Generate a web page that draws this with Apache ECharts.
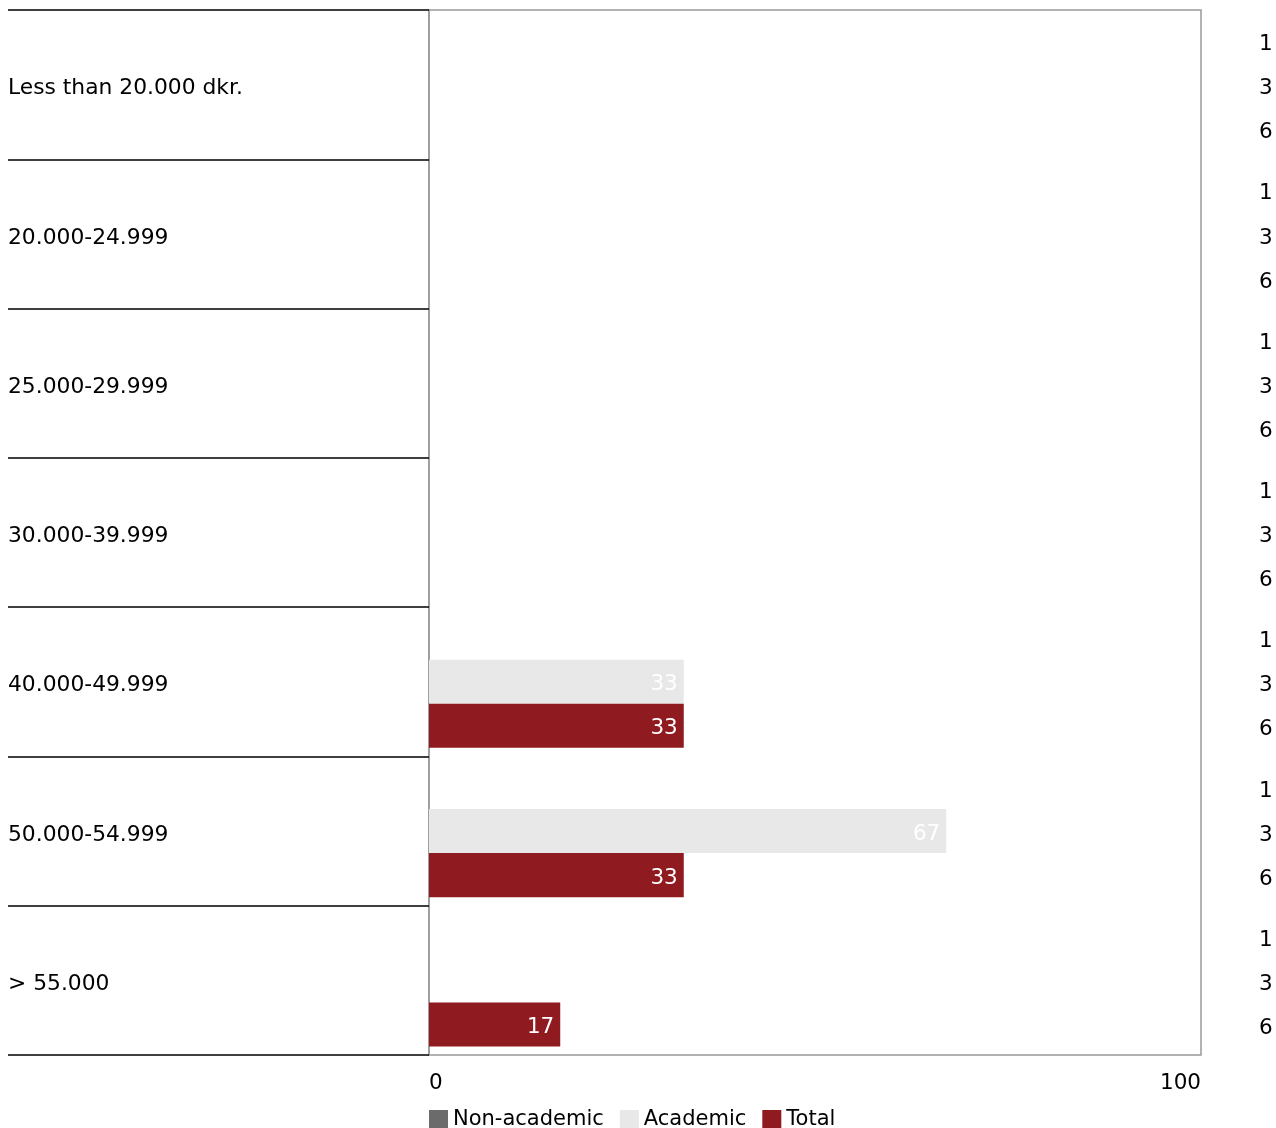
<!DOCTYPE html>
<html>
<head>
<meta charset="utf-8">
<script src="https://cdn.jsdelivr.net/npm/echarts@6/dist/echarts.min.js"></script>
<style>html,body{margin:0;padding:0;background:#fff;}#c{width:1276px;height:1128px;}</style>
</head>
<body>
<div id="c"></div>
<script>
const categories = ["Less than 20.000 dkr.", "20.000-24.999", "25.000-29.999", "30.000-39.999", "40.000-49.999", "50.000-54.999", "> 55.000"];
const seriesNames = ["Non-academic", "Academic", "Total"];
const nonAcademic = [0, 0, 0, 0, 0, 0, 0];
const academic = [0, 0, 0, 0, 33, 67, 0];
const total = [0, 0, 0, 0, 33, 33, 17];
const sampleSizes = [1, 3, 6];
const xTicks = [0, 100];
const colors = ["#6b6b6b", "#e8e8e8", "#8f1a1f"];

const FONT = 'Verdana, "DejaVu Sans", sans-serif';
const FS = 21.5;
const values = [nonAcademic, academic, total];

const chart = echarts.init(document.getElementById('c'));

const mainSeries = seriesNames.map((name, i) => ({
  name: name,
  type: 'bar',
  xAxisIndex: 0,
  yAxisIndex: 0,
  data: values[i],
  barGap: '0%',
  barCategoryGap: '11.5%',
  itemStyle: { color: colors[i] },
  label: {
    show: true,
    position: 'insideRight',
    distance: 6,
    offset: [0, 3],
    color: '#fff',
    fontFamily: FONT,
    fontSize: FS,
    formatter: p => (p.value ? String(p.value) : '')
  }
}));

const nSeries = seriesNames.map((name, i) => ({
  name: name + ' n',
  type: 'bar',
  xAxisIndex: 1,
  yAxisIndex: 1,
  silent: true,
  data: categories.map(() => xTicks[xTicks.length - 1]),
  barGap: '0%',
  barCategoryGap: '11.5%',
  itemStyle: { color: 'rgba(0,0,0,0)' },
  label: {
    show: true,
    position: 'right',
    distance: 58,
    offset: [0, 4],
    color: '#000',
    fontFamily: FONT,
    fontSize: FS,
    formatter: () => String(sampleSizes[i])
  }
}));

chart.setOption({
  animation: false,
  textStyle: { fontFamily: FONT },
  grid: {
    left: 429, right: 75, top: 10, bottom: 73,
    show: true, borderColor: '#999', borderWidth: 1.5, backgroundColor: 'transparent'
  },
  legend: {
    data: seriesNames,
    left: 429,
    top: 1109,
    padding: 0,
    itemWidth: 19,
    itemHeight: 19,
    itemGap: 16,
    icon: 'rect',
    textStyle: { fontFamily: FONT, fontSize: 21, color: '#000' }
  },
  xAxis: [{
    type: 'value',
    min: xTicks[0],
    max: xTicks[xTicks.length - 1],
    interval: xTicks[1] - xTicks[0],
    axisLine: { show: false },
    axisTick: { show: false },
    splitLine: { show: false },
    axisLabel: {
      color: '#000', fontFamily: FONT, fontSize: FS, margin: 17,
      alignMinLabel: 'left', alignMaxLabel: 'right'
    }
  }, {
    type: 'value',
    min: xTicks[0],
    max: xTicks[xTicks.length - 1],
    show: false
  }],
  yAxis: [{
    type: 'category',
    data: categories,
    inverse: true,
    axisLine: { show: true, lineStyle: { color: '#999', width: 1.5 } },
    axisTick: { show: true, length: 421, lineStyle: { color: '#000', width: 1.5 } },
    splitLine: { show: false },
    axisLabel: {
      color: '#000', fontFamily: FONT, fontSize: 21.8,
      align: 'left', margin: 421, verticalAlign: 'top', lineHeight: 8
    }
  }, {
    type: 'category',
    data: categories,
    inverse: true,
    show: false
  }],
  series: mainSeries.concat(nSeries)
});
</script>
</body>
</html>
